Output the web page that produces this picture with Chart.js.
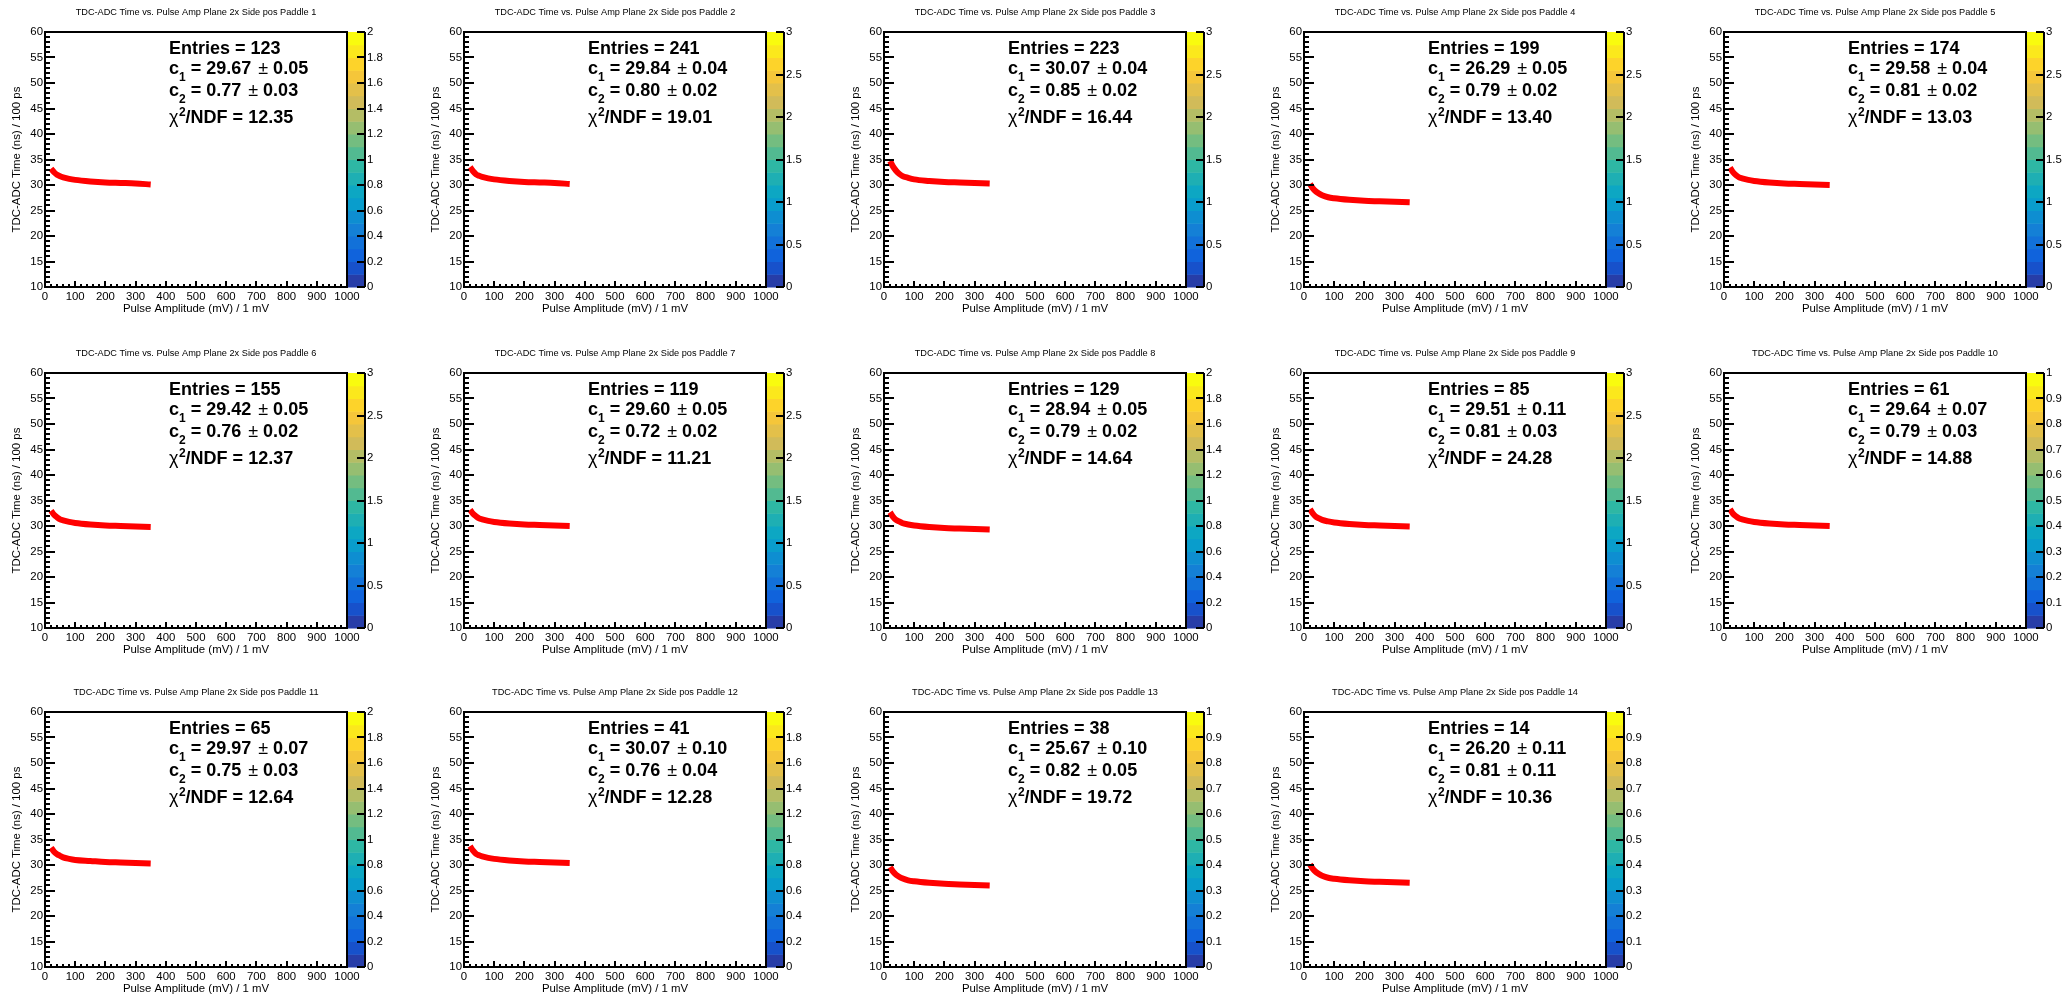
<!DOCTYPE html>
<html><head><meta charset="utf-8">
<style>
html,body{margin:0;padding:0;background:#fff;width:2063px;height:998px;overflow:hidden;position:relative}
canvas{position:absolute}
</style>
<script src="https://cdn.jsdelivr.net/npm/chart.js@4.4.1/dist/chart.umd.min.js"></script>
</head><body>
<script>
// ---------- data ----------
const xAmp = [20, 30, 40, 50, 60, 80, 100, 150, 200, 250, 300, 350];
const yPaddle1  = [33.2, 32.5, 32.0, 31.7, 31.5, 31.2, 31.0, 30.7, 30.5, 30.4, 30.3, 30.1];
const yPaddle2  = [33.5, 32.7, 32.1, 31.8, 31.6, 31.3, 31.1, 30.8, 30.6, 30.5, 30.4, 30.2];
const yPaddle3  = [34.7, 33.6, 32.8, 32.2, 31.8, 31.4, 31.1, 30.8, 30.6, 30.5, 30.4, 30.3];
const yPaddle4  = [30.2, 29.3, 28.7, 28.3, 28.0, 27.6, 27.4, 27.1, 26.9, 26.8, 26.7, 26.6];
const yPaddle5  = [33.4, 32.5, 31.9, 31.5, 31.3, 31.0, 30.8, 30.5, 30.3, 30.2, 30.1, 30.0];
const yPaddle6  = [33.0, 32.2, 31.7, 31.3, 31.1, 30.8, 30.6, 30.3, 30.1, 30.0, 29.9, 29.8];
const yPaddle7  = [33.2, 32.4, 31.9, 31.5, 31.3, 31.0, 30.8, 30.5, 30.3, 30.2, 30.1, 30.0];
const yPaddle8  = [32.7, 31.8, 31.2, 30.9, 30.6, 30.3, 30.1, 29.8, 29.6, 29.5, 29.4, 29.3];
const yPaddle9  = [33.3, 32.4, 31.8, 31.5, 31.2, 30.9, 30.7, 30.4, 30.2, 30.1, 30.0, 29.9];
const yPaddle10 = [33.3, 32.4, 31.9, 31.5, 31.3, 31.0, 30.8, 30.5, 30.3, 30.2, 30.1, 30.0];
const yPaddle11 = [33.4, 32.6, 32.1, 31.8, 31.5, 31.2, 31.0, 30.8, 30.6, 30.5, 30.4, 30.3];
const yPaddle12 = [33.7, 32.8, 32.2, 31.9, 31.7, 31.4, 31.2, 30.9, 30.7, 30.6, 30.5, 30.4];
const yPaddle13 = [29.6, 28.7, 28.1, 27.7, 27.4, 27.0, 26.8, 26.5, 26.3, 26.2, 26.1, 26.0];
const yPaddle14 = [30.1, 29.2, 28.6, 28.2, 27.9, 27.5, 27.3, 27.0, 26.8, 26.7, 26.6, 26.5];

const paddles = [1, 2, 3, 4, 5, 6, 7, 8, 9, 10, 11, 12, 13, 14];
const entries = [123, 241, 223, 199, 174, 155, 119, 129, 85, 61, 65, 41, 38, 14];
const c1Val = ['29.67','29.84','30.07','26.29','29.58','29.42','29.60','28.94','29.51','29.64','29.97','30.07','25.67','26.20'];
const c1Err = ['0.05','0.04','0.04','0.05','0.04','0.05','0.05','0.05','0.11','0.07','0.07','0.10','0.10','0.11'];
const c2Val = ['0.77','0.80','0.85','0.79','0.81','0.76','0.72','0.79','0.81','0.79','0.75','0.76','0.82','0.81'];
const c2Err = ['0.03','0.02','0.02','0.02','0.02','0.02','0.02','0.02','0.03','0.03','0.03','0.04','0.05','0.11'];
const chi2  = ['12.35','19.01','16.44','13.40','13.03','12.37','11.21','14.64','24.28','14.88','12.64','12.28','19.72','10.36'];
const zMax  = [2, 3, 3, 3, 3, 3, 3, 2, 3, 1, 2, 2, 1, 1];
const zStep = [0.2, 0.5, 0.5, 0.5, 0.5, 0.5, 0.5, 0.2, 0.5, 0.1, 0.2, 0.2, 0.1, 0.1];

const xTickStep = 100, yTickStep = 5;
const titleText = 'TDC-ADC Time vs. Pulse Amp Plane 2x Side pos Paddle ';
const xTitle = 'Pulse Amplitude (mV) / 1 mV';
const yTitle = 'TDC-ADC Time (ns) / 100 ps';

const curves = [yPaddle1, yPaddle2, yPaddle3, yPaddle4, yPaddle5, yPaddle6, yPaddle7,
                yPaddle8, yPaddle9, yPaddle10, yPaddle11, yPaddle12, yPaddle13, yPaddle14];

// ---------- styling ----------
const FONT = '"Liberation Sans", Arial, Helvetica, sans-serif';
const colLeft = [0, 419, 839, 1259, 1679];
const rowTop = [0, 341, 680];
const CW = 420, CH = 340;

// ROOT kBird palette
const bStops = [0, .125, .25, .375, .5, .625, .75, .875, 1];
const bR = [0.2082, 0.0592, 0.0780, 0.0232, 0.1802, 0.5301, 0.8186, 0.9956, 0.9764];
const bG = [0.1664, 0.3599, 0.5041, 0.6419, 0.7178, 0.7492, 0.7328, 0.7862, 0.9832];
const bB = [0.5293, 0.8684, 0.8385, 0.7914, 0.6425, 0.4662, 0.3499, 0.1968, 0.0539];
function bird(t) {
  let k = 0;
  while (k < bStops.length - 2 && t > bStops[k + 1]) k++;
  const f = (t - bStops[k]) / (bStops[k + 1] - bStops[k]);
  const c = a => Math.round(255 * (a[k] + (a[k + 1] - a[k]) * f));
  return `rgb(${c(bR)},${c(bG)},${c(bB)})`;
}

function piece(ctx, txt, x, y, font) {
  ctx.font = font;
  ctx.fillText(txt, x, y);
  return x + ctx.measureText(txt).width;
}

const fmt = v => String(Number(Number(v).toFixed(3)));

const rootDecor = {
  id: 'rootDecor',
  beforeDatasetsDraw(chart, args, opts) {
    const {ctx, chartArea: a} = chart;
    const z = chart.scales.z;
    const n = 20, zm = z.max;
    ctx.save();
    for (let i = 0; i < n; i++) {
      const yb = z.getPixelForValue(zm * i / n);
      const yt = z.getPixelForValue(zm * (i + 1) / n);
      const idx = Math.floor((i + 0.99) * 255 / n);
      ctx.fillStyle = bird(Math.min(idx, 254) / 254);
      ctx.fillRect(a.right + 1, yt, 16, yb - yt + 0.5);
    }
    ctx.restore();
  },
  afterDatasetsDraw(chart, args, opts) {
    const {ctx, chartArea: a} = chart;
    const xs = chart.scales.x, ys = chart.scales.y, z = chart.scales.z;
    const i = opts.index;
    ctx.save();
    ctx.strokeStyle = '#000';
    ctx.lineWidth = 2;
    // frame
    ctx.strokeRect(a.left, a.top, a.right - a.left, a.bottom - a.top);
    // y ticks (inward)
    ctx.beginPath();
    for (let v = ys.min; v <= ys.max; v += 1) {
      const p = Math.round(ys.getPixelForValue(v));
      const len = (v % yTickStep === 0) ? 10 : 5;
      ctx.moveTo(a.left, p); ctx.lineTo(a.left + len, p);
    }
    // x ticks (inward)
    for (let v = xs.min; v <= xs.max; v += 20) {
      const p = Math.round(xs.getPixelForValue(v));
      const len = (v % xTickStep === 0) ? 6 : 3;
      ctx.moveTo(p, a.bottom); ctx.lineTo(p, a.bottom - len);
    }
    ctx.stroke();
    // colorbar axis
    const zx = a.right + 18;
    ctx.beginPath();
    ctx.moveTo(zx, a.top); ctx.lineTo(zx, a.bottom);
    z.ticks.forEach(t => {
      const p = Math.round(z.getPixelForValue(t.value));
      ctx.moveTo(zx, p); ctx.lineTo(zx - 8, p);
    });
    ctx.stroke();
    // title
    ctx.fillStyle = '#000';
    ctx.textAlign = 'center';
    ctx.textBaseline = 'middle';
    ctx.font = '9.2px ' + FONT;
    ctx.fillText(titleText + paddles[i], (a.left + a.right) / 2, a.top - 19.5);
    // stats
    ctx.textAlign = 'left';
    ctx.textBaseline = 'alphabetic';
    const B = 'bold 18px ' + FONT, N = '18px ' + FONT, S = 'bold 12px ' + FONT;
    const x0 = a.left + 124;
    piece(ctx, 'Entries = ' + entries[i], x0, a.top + 22, B);
    let by = a.top + 42, cx = x0;
    cx = piece(ctx, 'c', cx, by, B);
    cx = piece(ctx, '1', cx, by + 7.4, S);
    cx = piece(ctx, ' = ' + c1Val[i], cx, by, B);
    cx = piece(ctx, '±', cx + 7, by, N);
    piece(ctx, c1Err[i], cx + 5, by, B);
    by = a.top + 64; cx = x0;
    cx = piece(ctx, 'c', cx, by, B);
    cx = piece(ctx, '2', cx, by + 7.4, S);
    cx = piece(ctx, ' = ' + c2Val[i], cx, by, B);
    cx = piece(ctx, '±', cx + 7, by, N);
    piece(ctx, c2Err[i], cx + 5, by, B);
    by = a.top + 90.7; cx = x0;
    cx = piece(ctx, 'χ', cx, by, N);
    cx = piece(ctx, '2', cx + 0.5, by - 6.5, S);
    piece(ctx, '/NDF = ' + chi2[i], cx, by, B);
    ctx.restore();
  }
};

const tickFont = {family: FONT, size: 11.4};

paddles.forEach((pd, i) => {
  const cv = document.createElement('canvas');
  cv.width = CW; cv.height = CH;
  cv.style.width = CW + 'px'; cv.style.height = CH + 'px';
  cv.style.left = colLeft[i % 5] + 'px';
  cv.style.top = rowTop[Math.floor(i / 5)] + 'px';
  document.body.appendChild(cv);
  new Chart(cv.getContext('2d'), {
    type: 'line',
    data: {
      datasets: [{
        data: xAmp.map((x, k) => ({x: x, y: curves[i][k]})),
        borderColor: '#ff0000',
        borderWidth: 6,
        borderCapStyle: 'butt',
        pointRadius: 0,
        fill: false,
        cubicInterpolationMode: 'monotone',
        xAxisID: 'x', yAxisID: 'y'
      }]
    },
    options: {
      responsive: false,
      animation: false,
      devicePixelRatio: 1,
      layout: {padding: {top: 32, bottom: 23, left: 0, right: 0}},
      plugins: {
        legend: {display: false},
        tooltip: {enabled: false},
        title: {display: false},
        rootDecor: {index: i}
      },
      scales: {
        x: {
          type: 'linear', position: 'bottom', min: 0, max: 1000,
          afterFit: s => { s.height = 30; },
          grid: {display: false, drawTicks: false},
          border: {display: false},
          ticks: {stepSize: xTickStep, autoSkip: false, maxRotation: 0, padding: 3, color: '#000', font: tickFont, callback: fmt},
          title: {display: true, text: xTitle, color: '#000', font: tickFont, padding: {top: 0, bottom: 1}}
        },
        y: {
          type: 'linear', position: 'left', min: 10, max: 60,
          afterFit: s => { s.width = 45; },
          grid: {display: false, drawTicks: false},
          border: {display: false},
          ticks: {stepSize: yTickStep, autoSkip: false, padding: 2, color: '#000', font: tickFont, callback: fmt},
          title: {display: true, text: yTitle, color: '#000', font: tickFont, padding: {top: 10, bottom: 0}}
        },
        z: {
          type: 'linear', position: 'right', min: 0, max: zMax[i],
          afterFit: s => { s.width = 73; },
          grid: {display: false, drawTicks: false},
          border: {display: false},
          ticks: {stepSize: zStep[i], autoSkip: false, padding: 20, color: '#000', font: tickFont, callback: fmt}
        }
      }
    },
    plugins: [rootDecor]
  });
});
</script>
</body></html>
